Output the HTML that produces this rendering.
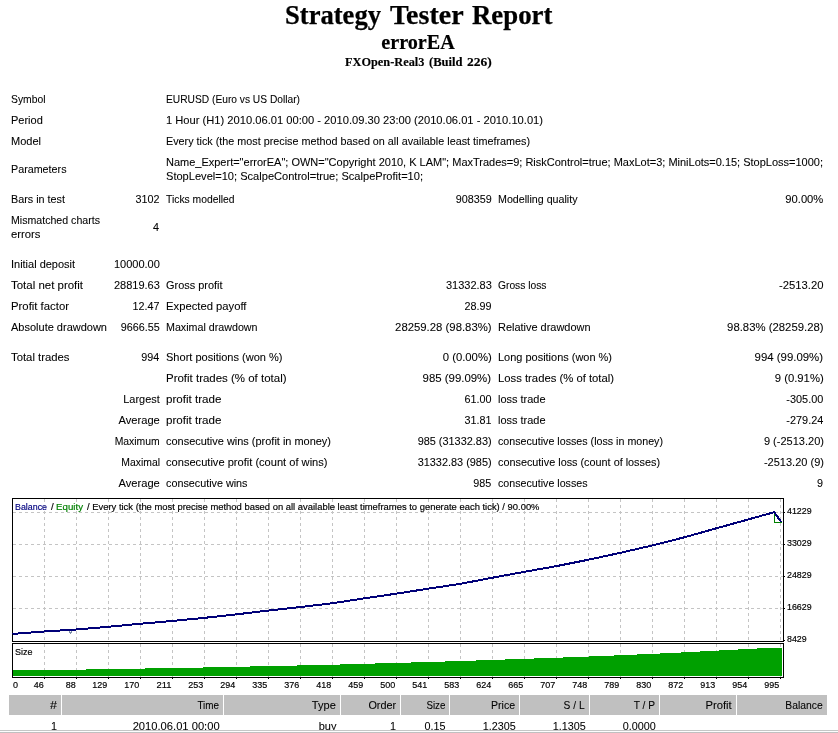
<!DOCTYPE html>
<html lang="en">
<head>
<meta charset="utf-8">
<title>Strategy Tester: errorEA</title>
<style>
html,body{margin:0;padding:0;background:#fff;}
body{width:838px;height:733px;overflow:hidden;position:relative;color:#000;}
#page{position:absolute;left:0;top:0;width:838px;height:733px;overflow:hidden;background:#fff;}
.t{position:absolute;white-space:pre;margin:0;padding:0;}
.s{font:11px/14px "Liberation Sans", sans-serif;height:14px;-webkit-text-stroke:0.08px #000;}
.c{font:9.7px/12px "Liberation Sans", sans-serif;height:12px;-webkit-text-stroke:0.18px currentColor;}
.h1{font:bold 26.67px/32px "Liberation Serif", serif;height:32px;-webkit-text-stroke:0.25px #000;}
.h2{font:bold 21.33px/26px "Liberation Serif", serif;height:26px;-webkit-text-stroke:0.2px #000;}
.h3{font:bold 13.33px/16px "Liberation Serif", serif;height:16px;-webkit-text-stroke:0.15px #000;}
.hd{position:absolute;top:695px;height:20px;background:#c0c0c0;}
.chart{position:absolute;left:8px;top:494px;}
.edge{position:absolute;left:0;width:838px;height:1px;}
</style>
</head>
<body>
<div id="page">
<div class="hd" style="left:9px;width:52px"></div>
<div class="hd" style="left:62px;width:161px"></div>
<div class="hd" style="left:224px;width:116px"></div>
<div class="hd" style="left:341px;width:59px"></div>
<div class="hd" style="left:401px;width:48px"></div>
<div class="hd" style="left:450px;width:69px"></div>
<div class="hd" style="left:520px;width:69px"></div>
<div class="hd" style="left:590px;width:69px"></div>
<div class="hd" style="left:660px;width:76px"></div>
<div class="hd" style="left:737px;width:90px"></div>
<svg class="chart" width="820" height="200" viewBox="8 494 820 200" shape-rendering="crispEdges"><rect x="8" y="494" width="820" height="200" fill="#fff"/><path d="M44.5 499V641M44.5 644V677M76.5 499V641M76.5 644V677M108.5 499V641M108.5 644V677M140.5 499V641M140.5 644V677M172.5 499V641M172.5 644V677M204.5 499V641M204.5 644V677M236.5 499V641M236.5 644V677M268.5 499V641M268.5 644V677M300.5 499V641M300.5 644V677M332.5 499V641M332.5 644V677M364.5 499V641M364.5 644V677M396.5 499V641M396.5 644V677M428.5 499V641M428.5 644V677M460.5 499V641M460.5 644V677M492.5 499V641M492.5 644V677M524.5 499V641M524.5 644V677M556.5 499V641M556.5 644V677M588.5 499V641M588.5 644V677M620.5 499V641M620.5 644V677M652.5 499V641M652.5 644V677M684.5 499V641M684.5 644V677M716.5 499V641M716.5 644V677M748.5 499V641M748.5 644V677M780.5 499V641M780.5 644V677M13 512.5H783M13 544.5H783M13 576.5H783M13 608.5H783" stroke="#c4c4c4" stroke-width="1" stroke-dasharray="3 3" fill="none"/><path d="M13 676H13V670H86V669H145V668H203V667H250V666H297V665H340V664H375V663H411V662H445V661H476V660H505V659H534V658H563V657H589V656H614V655H637V654H660V653H681V652H700V651H719V650H738V649H757V648H782V676Z" fill="#00a000"/><path d="M12.5 498.5H783.5V641.5H12.5ZM12.5 643.5H783.5V677.5H12.5Z" stroke="#000" stroke-width="1" fill="none"/><path d="M784 512.5H785M784 544.5H785M784 576.5H785M784 608.5H785M784 640.5H785M44.5 678V679M76.5 678V679M108.5 678V679M140.5 678V679M172.5 678V679M204.5 678V679M236.5 678V679M268.5 678V679M300.5 678V679M332.5 678V679M364.5 678V679M396.5 678V679M428.5 678V679M460.5 678V679M492.5 678V679M524.5 678V679M556.5 678V679M588.5 678V679M620.5 678V679M652.5 678V679M684.5 678V679M716.5 678V679M748.5 678V679M780.5 678V679" stroke="#000" stroke-width="1" fill="none"/><path d="M774.5 512.5V522.5H781.5" stroke="#008000" stroke-width="1" fill="none"/><path d="M69.5 631V633M70.5 632V634M71.5 631V633" stroke="#7f8fa8" stroke-width="1" fill="none"/><path d="M12.5 633.9L44 631.5L76 629.5L108 626.8L140 623.8L172 621.0L204 617.9L236 614.4L268 610.6L300 607.1L332 603.3L364 598.4L396 593.7L428 588.7L460 583.9L492 577.8L524 571.9L556 566.2L588 559.8L620 552.9L652 545.5L684 537.4L716 528.4L748 519.5L774.2 512.2L781.2 521.9" stroke="#000078" stroke-width="2" fill="none" stroke-linejoin="round" shape-rendering="crispEdges"/></svg>
<div class="t h1" id="t0" style="top:-1.4px;left:285.2px;transform:scaleX(0.9976);transform-origin:left center;">Strategy</div>
<div class="t h1" id="t1" style="top:-1.4px;left:389.6px;transform:scaleX(1.0503);transform-origin:left center;">Tester</div>
<div class="t h1" id="t2" style="top:-1.4px;left:471.6px;transform:scaleX(1.0056);transform-origin:left center;">Report</div>
<div class="t h2" id="t3" style="top:28.7px;left:218.1px;width:400px;text-align:center;transform:scaleX(0.945);transform-origin:center center;">errorEA</div>
<div class="t h3" id="t4" style="top:53.9px;left:344.7px;transform:scaleX(0.9244);transform-origin:left center;">FXOpen-Real3</div>
<div class="t h3" id="t5" style="top:53.9px;left:429.2px;transform:scaleX(0.9448);transform-origin:left center;">(Build</div>
<div class="t h3" id="t6" style="top:53.9px;left:466.9px;transform:scaleX(1.0148);transform-origin:left center;">226)</div>
<div class="t s" id="t7" style="top:92px;left:11px;transform:scaleX(0.9404);transform-origin:left center;">Symbol</div>
<div class="t s" id="t8" style="top:92px;left:166px;transform:scaleX(0.9289);transform-origin:left center;">EURUSD (Euro vs US Dollar)</div>
<div class="t s" id="t9" style="top:113px;left:11px;">Period</div>
<div class="t s" id="t10" style="top:113px;left:166px;transform:scaleX(1.0139);transform-origin:left center;">1 Hour (H1) 2010.06.01 00:00 - 2010.09.30 23:00 (2010.06.01 - 2010.10.01)</div>
<div class="t s" id="t11" style="top:134px;left:11px;">Model</div>
<div class="t s" id="t12" style="top:134px;left:166px;transform:scaleX(0.9808);transform-origin:left center;">Every tick (the most precise method based on all available least timeframes)</div>
<div class="t s" id="t13" style="top:162px;left:11px;transform:scaleX(0.9761);transform-origin:left center;">Parameters</div>
<div class="t s" id="t14" style="top:155px;left:166px;transform:scaleX(0.9992);transform-origin:left center;">Name_Expert="errorEA"; OWN="Copyright 2010, K LAM"; MaxTrades=9; RiskControl=true; MaxLot=3; MiniLots=0.15; StopLoss=1000;</div>
<div class="t s" id="t15" style="top:169px;left:166px;transform:scaleX(1.0066);transform-origin:left center;">StopLevel=10; ScalpeControl=true; ScalpeProfit=10;</div>
<div class="t s" id="t16" style="top:192px;left:11px;transform:scaleX(0.9813);transform-origin:left center;">Bars in test</div>
<div class="t s" id="t17" style="top:192px;right:678.5px;transform:scaleX(0.9802);transform-origin:right center;">3102</div>
<div class="t s" id="t18" style="top:192px;left:166px;transform:scaleX(0.939);transform-origin:left center;">Ticks modelled</div>
<div class="t s" id="t19" style="top:192px;right:346.5px;transform:scaleX(0.9804);transform-origin:right center;">908359</div>
<div class="t s" id="t20" style="top:192px;left:498px;transform:scaleX(0.9703);transform-origin:left center;">Modelling quality</div>
<div class="t s" id="t21" style="top:192px;right:14.5px;transform:scaleX(1.0184);transform-origin:right center;">90.00%</div>
<div class="t s" id="t22" style="top:213px;left:11px;transform:scaleX(0.9641);transform-origin:left center;">Mismatched charts</div>
<div class="t s" id="t23" style="top:227px;left:11px;transform:scaleX(1.0266);transform-origin:left center;">errors</div>
<div class="t s" id="t24" style="top:220px;right:678.5px;transform:scaleX(0.9796);transform-origin:right center;">4</div>
<div class="t s" id="t25" style="top:257px;left:11px;transform:scaleX(0.9966);transform-origin:left center;">Initial deposit</div>
<div class="t s" id="t26" style="top:257px;right:678.5px;transform:scaleX(1.0024);transform-origin:right center;">10000.00</div>
<div class="t s" id="t27" style="top:278px;left:11px;transform:scaleX(1.0421);transform-origin:left center;">Total net profit</div>
<div class="t s" id="t28" style="top:278px;right:678.5px;transform:scaleX(1.0024);transform-origin:right center;">28819.63</div>
<div class="t s" id="t29" style="top:278px;left:166px;transform:scaleX(0.9937);transform-origin:left center;">Gross profit</div>
<div class="t s" id="t30" style="top:278px;right:346.5px;transform:scaleX(1.0024);transform-origin:right center;">31332.83</div>
<div class="t s" id="t31" style="top:278px;left:498px;transform:scaleX(0.9333);transform-origin:left center;">Gross loss</div>
<div class="t s" id="t32" style="top:278px;right:14.5px;transform:scaleX(1.0245);transform-origin:right center;">-2513.20</div>
<div class="t s" id="t33" style="top:299px;left:11px;transform:scaleX(1.0311);transform-origin:left center;">Profit factor</div>
<div class="t s" id="t34" style="top:299px;right:678.5px;transform:scaleX(0.9807);transform-origin:right center;">12.47</div>
<div class="t s" id="t35" style="top:299px;left:166px;transform:scaleX(1.023);transform-origin:left center;">Expected payoff</div>
<div class="t s" id="t36" style="top:299px;right:346.5px;transform:scaleX(0.9807);transform-origin:right center;">28.99</div>
<div class="t s" id="t37" style="top:320px;left:11px;transform:scaleX(0.9998);transform-origin:left center;">Absolute drawdown</div>
<div class="t s" id="t38" style="top:320px;right:678.5px;transform:scaleX(0.9807);transform-origin:right center;">9666.55</div>
<div class="t s" id="t39" style="top:320px;left:166px;transform:scaleX(0.9718);transform-origin:left center;">Maximal drawdown</div>
<div class="t s" id="t40" style="top:320px;right:346.5px;transform:scaleX(1.0312);transform-origin:right center;">28259.28 (98.83%)</div>
<div class="t s" id="t41" style="top:320px;left:498px;transform:scaleX(0.9953);transform-origin:left center;">Relative drawdown</div>
<div class="t s" id="t42" style="top:320px;right:14.5px;transform:scaleX(1.0312);transform-origin:right center;">98.83% (28259.28)</div>
<div class="t s" id="t43" style="top:350px;left:11px;transform:scaleX(1.0286);transform-origin:left center;">Total trades</div>
<div class="t s" id="t44" style="top:350px;right:678.5px;transform:scaleX(0.9804);transform-origin:right center;">994</div>
<div class="t s" id="t45" style="top:350px;left:166px;transform:scaleX(1.0028);transform-origin:left center;">Short positions (won %)</div>
<div class="t s" id="t46" style="top:350px;right:346.5px;transform:scaleX(1.0272);transform-origin:right center;">0 (0.00%)</div>
<div class="t s" id="t47" style="top:350px;left:498px;transform:scaleX(0.997);transform-origin:left center;">Long positions (won %)</div>
<div class="t s" id="t48" style="top:350px;right:14.5px;transform:scaleX(1.0371);transform-origin:right center;">994 (99.09%)</div>
<div class="t s" id="t49" style="top:371px;left:166px;transform:scaleX(1.0429);transform-origin:left center;">Profit trades (% of total)</div>
<div class="t s" id="t50" style="top:371px;right:346.5px;transform:scaleX(1.0371);transform-origin:right center;">985 (99.09%)</div>
<div class="t s" id="t51" style="top:371px;left:498px;transform:scaleX(1.0256);transform-origin:left center;">Loss trades (% of total)</div>
<div class="t s" id="t52" style="top:371px;right:14.5px;transform:scaleX(1.0272);transform-origin:right center;">9 (0.91%)</div>
<div class="t s" id="t53" style="top:392px;right:678.5px;transform:scaleX(0.9917);transform-origin:right center;">Largest</div>
<div class="t s" id="t54" style="top:392px;left:166px;transform:scaleX(1.0553);transform-origin:left center;">profit trade</div>
<div class="t s" id="t55" style="top:392px;right:346.5px;transform:scaleX(0.9807);transform-origin:right center;">61.00</div>
<div class="t s" id="t56" style="top:392px;left:498px;transform:scaleX(0.9957);transform-origin:left center;">loss trade</div>
<div class="t s" id="t57" style="top:392px;right:14.5px;transform:scaleX(0.9916);transform-origin:right center;">-305.00</div>
<div class="t s" id="t58" style="top:413px;right:678.5px;transform:scaleX(1.0127);transform-origin:right center;">Average</div>
<div class="t s" id="t59" style="top:413px;left:166px;transform:scaleX(1.0553);transform-origin:left center;">profit trade</div>
<div class="t s" id="t60" style="top:413px;right:346.5px;transform:scaleX(0.9807);transform-origin:right center;">31.81</div>
<div class="t s" id="t61" style="top:413px;left:498px;transform:scaleX(0.9957);transform-origin:left center;">loss trade</div>
<div class="t s" id="t62" style="top:413px;right:14.5px;transform:scaleX(0.9916);transform-origin:right center;">-279.24</div>
<div class="t s" id="t63" style="top:434px;right:678.5px;transform:scaleX(0.944);transform-origin:right center;">Maximum</div>
<div class="t s" id="t64" style="top:434px;left:166px;transform:scaleX(0.9959);transform-origin:left center;">consecutive wins (profit in money)</div>
<div class="t s" id="t65" style="top:434px;right:346.5px;transform:scaleX(0.9916);transform-origin:right center;">985 (31332.83)</div>
<div class="t s" id="t66" style="top:434px;left:498px;transform:scaleX(0.9708);transform-origin:left center;">consecutive losses (loss in money)</div>
<div class="t s" id="t67" style="top:434px;right:14.5px;transform:scaleX(1.001);transform-origin:right center;">9 (-2513.20)</div>
<div class="t s" id="t68" style="top:455px;right:678.5px;transform:scaleX(0.9425);transform-origin:right center;">Maximal</div>
<div class="t s" id="t69" style="top:455px;left:166px;transform:scaleX(1.0082);transform-origin:left center;">consecutive profit (count of wins)</div>
<div class="t s" id="t70" style="top:455px;right:346.5px;transform:scaleX(0.9916);transform-origin:right center;">31332.83 (985)</div>
<div class="t s" id="t71" style="top:455px;left:498px;transform:scaleX(0.985);transform-origin:left center;">consecutive loss (count of losses)</div>
<div class="t s" id="t72" style="top:455px;right:14.5px;transform:scaleX(1.001);transform-origin:right center;">-2513.20 (9)</div>
<div class="t s" id="t73" style="top:476px;right:678.5px;transform:scaleX(1.0127);transform-origin:right center;">Average</div>
<div class="t s" id="t74" style="top:476px;left:166px;transform:scaleX(0.9801);transform-origin:left center;">consecutive wins</div>
<div class="t s" id="t75" style="top:476px;right:346.5px;transform:scaleX(0.9804);transform-origin:right center;">985</div>
<div class="t s" id="t76" style="top:476px;left:498px;transform:scaleX(0.9694);transform-origin:left center;">consecutive losses</div>
<div class="t s" id="t77" style="top:476px;right:14.5px;transform:scaleX(0.9796);transform-origin:right center;">9</div>
<div class="t s" id="t78" style="top:698px;right:781px;transform:scaleX(1.1429);transform-origin:right center;">#</div>
<div class="t s" id="t79" style="top:719px;right:780.5px;transform:scaleX(0.9796);transform-origin:right center;">1</div>
<div class="t s" id="t80" style="top:698px;right:619px;transform:scaleX(0.8982);transform-origin:right center;">Time</div>
<div class="t s" id="t81" style="top:719px;right:618.5px;transform:scaleX(1.0159);transform-origin:right center;">2010.06.01 00:00</div>
<div class="t s" id="t82" style="top:698px;right:502px;transform:scaleX(1.0059);transform-origin:right center;">Type</div>
<div class="t s" id="t83" style="top:719px;right:501.5px;">buy</div>
<div class="t s" id="t84" style="top:698px;right:442px;transform:scaleX(0.9849);transform-origin:right center;">Order</div>
<div class="t s" id="t85" style="top:719px;right:441.5px;transform:scaleX(0.9796);transform-origin:right center;">1</div>
<div class="t s" id="t86" style="top:698px;right:393px;transform:scaleX(0.8876);transform-origin:right center;">Size</div>
<div class="t s" id="t87" style="top:719px;right:392.5px;transform:scaleX(0.9803);transform-origin:right center;">0.15</div>
<div class="t s" id="t88" style="top:698px;right:323px;transform:scaleX(0.9576);transform-origin:right center;">Price</div>
<div class="t s" id="t89" style="top:719px;right:322.5px;transform:scaleX(0.9805);transform-origin:right center;">1.2305</div>
<div class="t s" id="t90" style="top:698px;right:253px;transform:scaleX(0.9282);transform-origin:right center;">S / L</div>
<div class="t s" id="t91" style="top:719px;right:252.5px;transform:scaleX(0.9805);transform-origin:right center;">1.1305</div>
<div class="t s" id="t92" style="top:698px;right:183px;transform:scaleX(0.9248);transform-origin:right center;">T / P</div>
<div class="t s" id="t93" style="top:719px;right:182.5px;transform:scaleX(0.9805);transform-origin:right center;">0.0000</div>
<div class="t s" id="t94" style="top:698px;right:106px;transform:scaleX(1.0238);transform-origin:right center;">Profit</div>
<div class="t s" id="t95" style="top:698px;right:15px;transform:scaleX(0.9405);transform-origin:right center;">Balance</div>
<div class="t c" id="t96" style="top:501px;left:15px;transform:scaleX(0.9139);transform-origin:left center;color:#000080;">Balance</div>
<div class="t c" id="t97" style="top:501px;left:51px;">/</div>
<div class="t c" id="t98" style="top:501px;left:55.8px;transform:scaleX(1.0023);transform-origin:left center;color:#008000;">Equity</div>
<div class="t c" id="t99" style="top:501px;left:86.5px;transform:scaleX(0.9715);transform-origin:left center;">/ Every tick (the most precise method based on all available least timeframes to generate each tick) / 90.00%</div>
<div class="t c" id="t100" style="top:646px;left:15px;transform:scaleX(0.9279);transform-origin:left center;">Size</div>
<div class="t c" id="t101" style="top:505px;left:787.4px;transform:scaleX(0.9164);transform-origin:left center;">41229</div>
<div class="t c" id="t102" style="top:537px;left:787.4px;transform:scaleX(0.9164);transform-origin:left center;">33029</div>
<div class="t c" id="t103" style="top:569px;left:787.4px;transform:scaleX(0.9164);transform-origin:left center;">24829</div>
<div class="t c" id="t104" style="top:601px;left:787.4px;transform:scaleX(0.9164);transform-origin:left center;">16629</div>
<div class="t c" id="t105" style="top:633px;left:787.4px;transform:scaleX(0.9136);transform-origin:left center;">8429</div>
<div class="t c" id="t106" style="top:679px;left:12.5px;transform:scaleX(0.9275);transform-origin:left center;">0</div>
<div class="t c" id="t107" style="top:679px;right:794.6px;transform:scaleX(0.9275);transform-origin:right center;">46</div>
<div class="t c" id="t108" style="top:679px;right:762.6px;transform:scaleX(0.9275);transform-origin:right center;">88</div>
<div class="t c" id="t109" style="top:679px;right:730.6px;transform:scaleX(0.9275);transform-origin:right center;">129</div>
<div class="t c" id="t110" style="top:679px;right:698.6px;transform:scaleX(0.9275);transform-origin:right center;">170</div>
<div class="t c" id="t111" style="top:679px;right:666.6px;transform:scaleX(0.9707);transform-origin:right center;">211</div>
<div class="t c" id="t112" style="top:679px;right:634.6px;transform:scaleX(0.9275);transform-origin:right center;">253</div>
<div class="t c" id="t113" style="top:679px;right:602.6px;transform:scaleX(0.9275);transform-origin:right center;">294</div>
<div class="t c" id="t114" style="top:679px;right:570.6px;transform:scaleX(0.9275);transform-origin:right center;">335</div>
<div class="t c" id="t115" style="top:679px;right:538.6px;transform:scaleX(0.9275);transform-origin:right center;">376</div>
<div class="t c" id="t116" style="top:679px;right:506.6px;transform:scaleX(0.9275);transform-origin:right center;">418</div>
<div class="t c" id="t117" style="top:679px;right:474.6px;transform:scaleX(0.9275);transform-origin:right center;">459</div>
<div class="t c" id="t118" style="top:679px;right:442.6px;transform:scaleX(0.9275);transform-origin:right center;">500</div>
<div class="t c" id="t119" style="top:679px;right:410.6px;transform:scaleX(0.9275);transform-origin:right center;">541</div>
<div class="t c" id="t120" style="top:679px;right:378.6px;transform:scaleX(0.9275);transform-origin:right center;">583</div>
<div class="t c" id="t121" style="top:679px;right:346.6px;transform:scaleX(0.9275);transform-origin:right center;">624</div>
<div class="t c" id="t122" style="top:679px;right:314.6px;transform:scaleX(0.9275);transform-origin:right center;">665</div>
<div class="t c" id="t123" style="top:679px;right:282.6px;transform:scaleX(0.9275);transform-origin:right center;">707</div>
<div class="t c" id="t124" style="top:679px;right:250.6px;transform:scaleX(0.9275);transform-origin:right center;">748</div>
<div class="t c" id="t125" style="top:679px;right:218.6px;transform:scaleX(0.9275);transform-origin:right center;">789</div>
<div class="t c" id="t126" style="top:679px;right:186.6px;transform:scaleX(0.9275);transform-origin:right center;">830</div>
<div class="t c" id="t127" style="top:679px;right:154.6px;transform:scaleX(0.9275);transform-origin:right center;">872</div>
<div class="t c" id="t128" style="top:679px;right:122.6px;transform:scaleX(0.9275);transform-origin:right center;">913</div>
<div class="t c" id="t129" style="top:679px;right:90.6px;transform:scaleX(0.9275);transform-origin:right center;">954</div>
<div class="t c" id="t130" style="top:679px;right:58.6px;transform:scaleX(0.9275);transform-origin:right center;">995</div>
<div class="edge" style="top:730px;background:#c6c6c6"></div>
<div class="edge" style="top:731px;background:#fdfdfd"></div>
<div class="edge" style="top:732px;background:#c0c0c0"></div>
</div>
</body>
</html>
